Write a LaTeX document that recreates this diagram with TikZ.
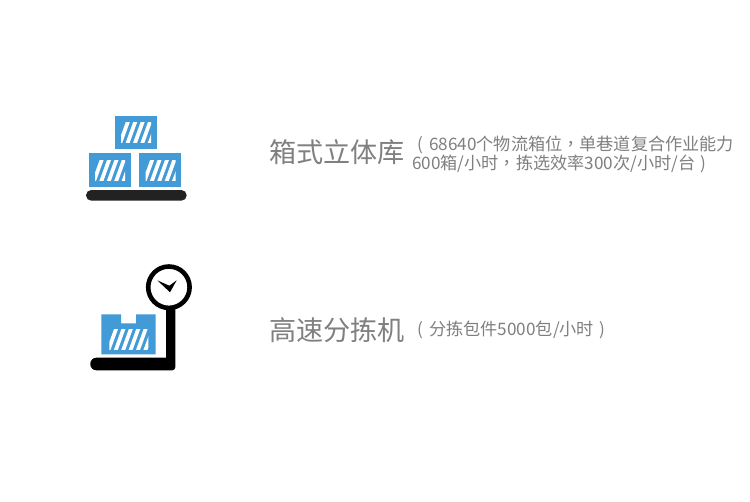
\documentclass[tikz,border=0pt]{standalone}
\usepackage{fontspec}
\setmainfont{Noto Sans CJK SC}
\newfontfamily\tcfont{Noto Sans CJK TC}
\definecolor{boxblue}{HTML}{429BD6}
\definecolor{txtgray}{HTML}{808080}
\definecolor{barblack}{HTML}{222222}
\tikzset{
  titletext/.style={anchor=base west,inner sep=0pt,text=txtgray,font=\fontsize{27.1}{27.1}\selectfont},
  subtext/.style={anchor=base west,inner sep=0pt,text=txtgray,font=\fontsize{17.15}{17.15}\selectfont},
}
\newcommand{\lpar}{\makebox[17pt][c]{(}}
\newcommand{\rpar}{\makebox[17pt][c]{)}}
\newcommand{\ccomma}{{\tcfont ，}}
% crate stripes: #1,#2 = area top-left, #3,#4 = width, height
\newcommand{\crateStripes}[4]{%
  \begin{scope}
    \clip (#1,#2) rectangle ++(#3,#4);
    \foreach \i in {0,...,5}{
      \fill[white] ({#1-3+\i*7.4},{#2+#4+1}) -- ({#1+1+\i*7.4},{#2+#4+1})
        -- ({#1+9+\i*7.4},{#2-1}) -- ({#1+5+\i*7.4},{#2-1}) -- cycle;
    }
  \end{scope}}
\begin{document}
\begin{tikzpicture}[x=1pt,y=-1pt]
\useasboundingbox (0,0) rectangle (750,501);
\fill[white] (0,0) rectangle (750,501);
% pallet icon
\fill[boxblue] (114.7,116) rectangle (156.7,149.3);
\fill[boxblue] (88.7,153.3) rectangle (131,186.7);
\fill[boxblue] (139.3,153.3) rectangle (181.3,186.7);
\crateStripes{121}{122.5}{30}{20}
\crateStripes{95}{160}{30}{20}
\crateStripes{145.5}{160}{30}{20}
\fill[barblack,rounded corners=5.3pt] (86,190) rectangle (186.7,200.7);
% scale icon
\fill[boxblue] (101.3,314.3) -- (121,314.3) -- (121,323.3) -- (136,323.3) -- (136,314.3)
  -- (155.7,314.3) -- (155.7,354.3) -- (101.3,354.3) -- cycle;
\crateStripes{109.3}{329.3}{39}{20}
\fill[black] (166,305) -- (175.3,305) [rounded corners=3pt] -- (175.3,370.3)
  [rounded corners=6pt] -- (90.3,370.3) -- (90.3,357.7) [sharp corners] -- (166,357.7) -- cycle;
\draw[black,line width=4.6pt,fill=white] (168.9,287.2) circle (20.7);
\fill[black] (157.3,280.3) -- (169.3,285.7) -- (176.7,280.3) -- (170,292.3) -- cycle;
% texts
\node[titletext] (t1) at (269,162) {箱式立体库};
\node[subtext] (s1) at (412,150) {\lpar 68640个物流箱位\ccomma 单巷道复合作业能力};
\node[subtext] (s2) at (412,169.5) {600箱/小时\ccomma 拣选效率300次/小时/台\rpar};
\node[titletext] (t2) at (269,340.5) {高速分拣机};
\node[subtext] (s3) at (412,335) {\lpar 分拣包件5000包/小时\rpar};
\end{tikzpicture}
\end{document}
